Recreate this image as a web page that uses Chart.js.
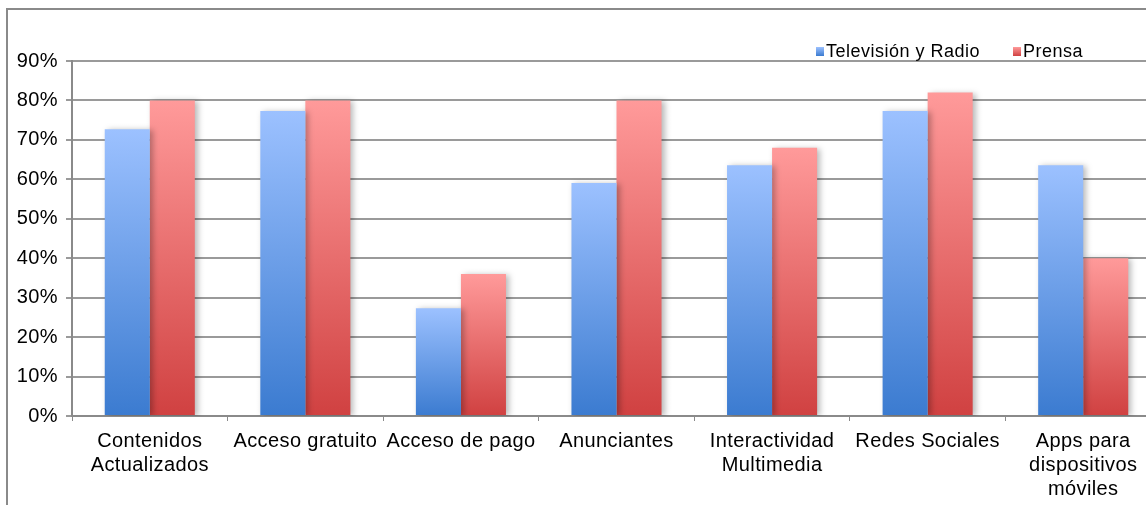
<!DOCTYPE html>
<html>
<head>
<meta charset="utf-8">
<script src="https://cdn.jsdelivr.net/npm/chart.js@4.4.1/dist/chart.umd.min.js"></script>
<style>
    html, body { margin: 0; padding: 0; background: #fff; overflow: hidden; }
    #chart { display: block; }
</style>
</head>
<body>
<canvas id="chart" width="1161" height="505"></canvas>
<script>
// categories and values (percent)
const categories = [
    ['Contenidos', 'Actualizados'],
    'Acceso gratuito',
    'Acceso de pago',
    'Anunciantes',
    ['Interactividad', 'Multimedia'],
    'Redes Sociales',
    ['Apps para', 'dispositivos', 'móviles']
];
const seriesNames = ['Televisión y Radio', 'Prensa'];
const tvRadio = [72.7, 77.3, 27.3, 59.1, 63.6, 77.3, 63.6];
const prensa = [80, 80, 36, 80, 68, 82, 40];
const yTicks = [0, 10, 20, 30, 40, 50, 60, 70, 80, 90];

const FONT = '"Liberation Sans", Arial, sans-serif';
const SPACING = '0.4px';

// each bar gets its own light-to-dark vertical gradient
function barFill(light, dark) {
    return function(context) {
        let chart = context.chart;
        if (!chart.chartArea || context.type !== 'data') return dark;
        let y = chart.scales.y;
        let top = y.getPixelForValue(context.raw);
        let base = y.getPixelForValue(0);
        if (!isFinite(top) || !isFinite(base) || top === base) return dark;
        let g = chart.ctx.createLinearGradient(0, top, 0, base);
        g.addColorStop(0, light);
        g.addColorStop(1, dark);
        return g;
    };
}

const blueLight = '#9cc1ff', blueDark = '#3b7bd0';
const redLight = '#ff9a9a', redDark = '#d04141';

// outer frame of the chart box, and slightly wider letter spacing for all text
const framePlugin = {
    id: 'frame',
    beforeDraw(chart) {
        let ctx = chart.ctx;
        ctx.letterSpacing = SPACING;
        ctx.save();
        ctx.fillStyle = '#fff';
        ctx.fillRect(0, 0, chart.width, chart.height);
        ctx.strokeStyle = '#8a8a8a';
        ctx.lineWidth = 2;
        ctx.strokeRect(7, 9, chart.width + 20, chart.height + 20);
        ctx.restore();
    }
};

// soft drop shadow behind the bars
const shadowPlugin = {
    id: 'barShadow',
    beforeDatasetsDraw(chart) {
        let ctx = chart.ctx;
        ctx.save();
        ctx.shadowColor = 'rgba(0,0,0,0.28)';
        ctx.shadowBlur = 6;
        ctx.shadowOffsetX = 3;
        ctx.shadowOffsetY = 1;
    },
    afterDatasetsDraw(chart) {
        chart.ctx.restore();
    }
};

// small legend in the top right corner
const legendPlugin = {
    id: 'cornerLegend',
    afterDraw(chart) {
        let ctx = chart.ctx;
        let items = [
            { x: 816, light: blueLight, dark: blueDark },
            { x: 1013, light: redLight, dark: redDark }
        ];
        ctx.save();
        ctx.font = '18px ' + FONT;
        ctx.letterSpacing = '0.5px';
        ctx.textBaseline = 'alphabetic';
        items.forEach((it, i) => {
            let g = ctx.createLinearGradient(0, 47, 0, 56);
            g.addColorStop(0, it.light);
            g.addColorStop(1, it.dark);
            ctx.fillStyle = g;
            ctx.fillRect(it.x, 47, 8, 9);
            ctx.fillStyle = '#000';
            ctx.fillText(chart.data.datasets[i].label, it.x + 10, 57);
        });
        ctx.restore();
    }
};

new Chart(document.getElementById('chart'), {
    type: 'bar',
    data: {
        labels: categories,
        datasets: [
            {
                label: seriesNames[0],
                data: tvRadio,
                backgroundColor: barFill(blueLight, blueDark),
                borderWidth: 0
            },
            {
                label: seriesNames[1],
                data: prensa,
                backgroundColor: barFill(redLight, redDark),
                borderWidth: 0
            }
        ]
    },
    options: {
        responsive: false,
        animation: false,
        devicePixelRatio: 1,
        categoryPercentage: 0.579,
        barPercentage: 1,
        layout: { padding: { top: 61, left: 0, right: 0, bottom: 0 } },
        plugins: {
            legend: { display: false },
            tooltip: { enabled: false }
        },
        scales: {
            x: {
                grid: {
                    offset: true,
                    drawOnChartArea: false,
                    drawTicks: true,
                    tickLength: 5,
                    color: '#8a8a8a',
                    lineWidth: 1
                },
                border: { color: '#8a8a8a', width: 2 },
                ticks: {
                    color: '#000',
                    padding: 8,
                    maxRotation: 0,
                    autoSkip: false,
                    font: { family: FONT, size: 20, lineHeight: 1.2 }
                },
                afterFit(scale) { scale.height = 89; }
            },
            y: {
                min: 0,
                max: 90,
                afterBuildTicks(scale) {
                    scale.ticks = yTicks.map(v => ({ value: v }));
                },
                grid: {
                    color: '#9a9a9a',
                    lineWidth: 2,
                    drawTicks: true,
                    tickLength: 6
                },
                border: { color: '#8a8a8a', width: 2 },
                ticks: {
                    color: '#000',
                    padding: 8,
                    font: { family: FONT, size: 20 },
                    callback: v => v + '%'
                },
                afterFit(scale) { scale.width = 72; }
            }
        }
    },
    plugins: [framePlugin, shadowPlugin, legendPlugin]
});
</script>
</body>
</html>
